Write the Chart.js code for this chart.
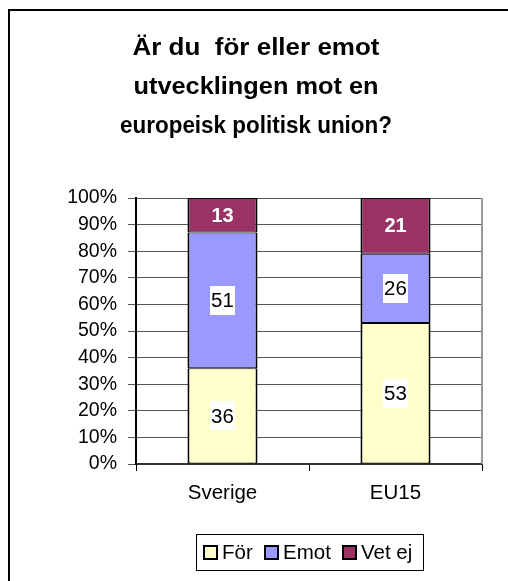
<!DOCTYPE html>
<html>
<head>
<meta charset="utf-8">
<script src="https://cdn.jsdelivr.net/npm/chart.js@4/dist/chart.umd.min.js"></script>
<style>
  html, body { margin: 0; padding: 0; background: #fff; }
  #wrap { width: 508px; height: 581px; }
</style>
</head>
<body>
<div id="wrap"><canvas id="c" width="508" height="581"></canvas></div>
<script>
const categories = ['Sverige', 'EU15'];
const seriesNames = ['För', 'Emot', 'Vet ej'];
const forValues = [36, 53];
const emotValues = [51, 26];
const vetEjValues = [13, 21];
const yTickValues = [0, 10, 20, 30, 40, 50, 60, 70, 80, 90, 100];
const titleLines = ['Är du  för eller emot', 'utvecklingen mot en', 'europeisk politisk union?'];

const FONT = 'Arial, "Liberation Sans", sans-serif';

// title: drawn as real text, each line fitted to the width it has in the reference
const titleStyle = { font: 'bold 23px ' + FONT, centerX: 256, baselines: [55, 94, 133], widths: [247, 245, 272] };

const framePlugin = {
  id: 'frame',
  beforeDraw(chart) {
    const ctx = chart.ctx;
    ctx.save();
    ctx.fillStyle = '#fff';
    ctx.fillRect(0, 0, chart.width, chart.height);
    ctx.strokeStyle = '#000';
    ctx.lineWidth = 2;
    ctx.beginPath();
    ctx.moveTo(9, chart.height);
    ctx.lineTo(9, 10);
    ctx.lineTo(chart.width, 10);
    ctx.stroke();
    // title
    ctx.font = titleStyle.font;
    ctx.fillStyle = '#000';
    ctx.textAlign = 'center';
    ctx.textBaseline = 'alphabetic';
    titleLines.forEach((line, i) => {
      const w = ctx.measureText(line).width;
      const sx = titleStyle.widths[i] / w;
      ctx.save();
      ctx.translate(titleStyle.centerX, titleStyle.baselines[i]);
      ctx.scale(sx, 1);
      ctx.fillText(line, 0, 0);
      ctx.restore();
    });
    ctx.restore();
  },
  beforeDatasetsDraw(chart) {
    const a = chart.chartArea;
    const ctx = chart.ctx;
    ctx.save();
    ctx.strokeStyle = '#999';
    ctx.lineWidth = 2;
    ctx.beginPath();
    ctx.moveTo(a.right, a.top);
    ctx.lineTo(a.right, a.bottom);
    ctx.stroke();
    ctx.restore();
  }
};

const labelPlugin = {
  id: 'segLabels',
  afterDatasetsDraw(chart) {
    const ctx = chart.ctx;
    ctx.save();
    chart.data.datasets.forEach((ds, di) => {
      const meta = chart.getDatasetMeta(di);
      meta.data.forEach((bar, i) => {
        const txt = String(ds.data[i]);
        const cx = bar.x;
        const cy = (bar.y + bar.base) / 2;
        ctx.textAlign = 'center';
        ctx.textBaseline = 'middle';
        if (di === 2) {
          ctx.font = 'bold 20px ' + FONT;
          ctx.fillStyle = '#fff';
          ctx.fillText(txt, cx, cy + 1);
        } else {
          ctx.font = '20.5px ' + FONT;
          const w = ctx.measureText(txt).width + 2;
          ctx.fillStyle = '#fff';
          ctx.fillRect(Math.round(cx - w / 2), Math.round(cy - 14.5), Math.round(w), 29);
          ctx.fillStyle = '#000';
          ctx.fillText(txt, cx, cy + 1);
        }
      });
    });
    ctx.restore();
  }
};

const legendPlugin = {
  id: 'customLegend',
  afterDraw(chart) {
    const ctx = chart.ctx;
    const a = chart.chartArea;
    ctx.save();
    ctx.font = '20.5px ' + FONT;
    const box = 13, gapText = 5, gapItem = 12;
    const items = chart.data.datasets.map(ds => ({ text: ds.label, color: ds.backgroundColor, w: ctx.measureText(ds.label).width }));
    let total = 0;
    items.forEach((it, i) => { total += box + gapText + it.w + (i < items.length - 1 ? gapItem : 0); });
    const padL = 7, padR = 12;
    const bw = total + padL + padR;
    const cxm = (a.left + a.right) / 2;
    const bx = Math.round(cxm - bw / 2) + 0.5;
    const by = 534.5, bh = 36;
    ctx.strokeStyle = '#000';
    ctx.lineWidth = 1;
    ctx.strokeRect(bx, by, Math.round(bw), bh);
    let x = Math.round(bx + padL);
    const cy = by + bh / 2;
    items.forEach(it => {
      ctx.fillStyle = it.color;
      ctx.fillRect(x, Math.round(cy - box / 2), box, box);
      ctx.lineWidth = 2;
      ctx.strokeStyle = '#000';
      ctx.strokeRect(x, Math.round(cy - box / 2), box, box);
      ctx.fillStyle = '#000';
      ctx.textAlign = 'left';
      ctx.textBaseline = 'middle';
      ctx.fillText(it.text, x + box + gapText, cy + 1);
      x = Math.round(x + box + gapText + it.w + gapItem);
    });
    ctx.restore();
  }
};

const barOpts = { barPercentage: 0.405, categoryPercentage: 1.0, borderColor: '#000', borderWidth: { left: 2, right: 2, top: 1, bottom: 1 }, borderSkipped: false };

new Chart(document.getElementById('c'), {
  type: 'bar',
  data: {
    labels: categories,
    datasets: [
      Object.assign({ label: seriesNames[0], data: forValues, backgroundColor: '#FFFFCC' }, barOpts),
      Object.assign({ label: seriesNames[1], data: emotValues, backgroundColor: '#9999FF' }, barOpts),
      Object.assign({ label: seriesNames[2], data: vetEjValues, backgroundColor: '#993366' }, barOpts)
    ]
  },
  options: {
    responsive: false,
    animation: false,
    devicePixelRatio: 1,
    layout: { padding: { top: 198, left: 10, right: 26, bottom: 57 } },
    plugins: {
      legend: { display: false },
      tooltip: { enabled: false },
      title: { display: false }
    },
    scales: {
      x: {
        stacked: true,
        grid: { display: true, drawOnChartArea: false, drawTicks: true, tickLength: 7, color: '#000', offset: true },
        border: { display: true, color: '#333', width: 2 },
        ticks: { color: '#000', font: { family: FONT, size: 20.5 }, padding: 10 },
        afterFit(s) { s.height = 60; }
      },
      y: {
        stacked: true,
        min: 0,
        max: 100,
        afterBuildTicks(s) { s.ticks = yTickValues.map(v => ({ value: v })); },
        grid: { color: '#555', lineWidth: 1, tickLength: 8, drawTicks: true },
        border: { display: true, color: '#000', width: 2 },
        ticks: { color: '#000', font: { family: FONT, size: 19.5 }, padding: 11, callback: v => v + '%' },
        afterFit(s) { s.width = 126; }
      }
    }
  },
  plugins: [framePlugin, labelPlugin, legendPlugin]
});
</script>
</body>
</html>
